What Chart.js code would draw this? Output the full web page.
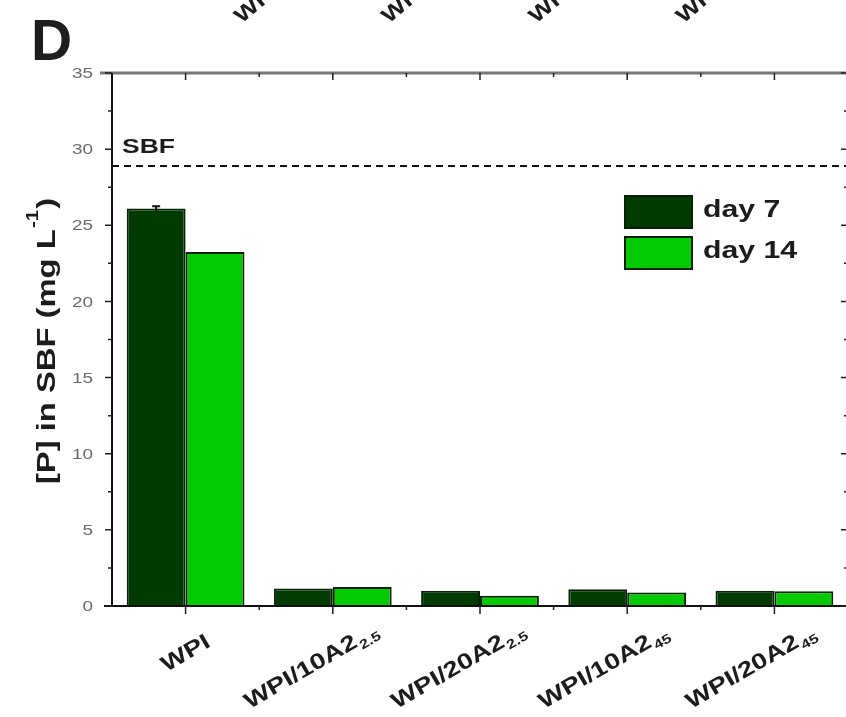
<!DOCTYPE html>
<html>
<head>
<meta charset="utf-8">
<script src="https://cdn.jsdelivr.net/npm/chart.js@4.4.0/dist/chart.umd.min.js"></script>
<style>
  html, body { margin: 0; padding: 0; background: #fff; overflow: hidden; }
  #wrap { position: relative; width: 852px; height: 717px; }
</style>
</head>
<body>
<div id="wrap"><canvas id="chart" width="852" height="717"></canvas></div>
<script>
const samples = ['WPI', 'WPI/10A2', 'WPI/20A2', 'WPI/10A2', 'WPI/20A2'];
const sampleSubs = ['', '2.5', '2.5', '45', '45'];
const day7 = [26.1, 1.15, 1.0, 1.1, 1.0];
const day14 = [23.25, 1.25, 0.68, 0.88, 0.97];
const day7Err = [0.15, 0, 0, 0, 0];
const sbfLevel = 28.9;
const yTicks = [0, 5, 10, 15, 20, 25, 30, 35];
const upperLabels = ['WPI/10A2', 'WPI/20A2', 'WPI/10A2', 'WPI/20A2'];

const dark = '#023b02';
const light = '#06c906';
const edge = '#072207';
const ink = '#1c1c1c';
const FONT = '"Liberation Sans", Arial, sans-serif';
const WIDEN = 1.26; // the figure's lettering is set wider than plain Arial

function wideText(ctx, text, x, y, angle, align, font, color) {
  ctx.save();
  ctx.translate(x, y);
  ctx.rotate(angle);
  ctx.scale(WIDEN, 1);
  ctx.font = font;
  ctx.fillStyle = color;
  ctx.textAlign = align;
  ctx.fillText(text, 0, 0);
  const w = ctx.measureText(text).width * WIDEN;
  ctx.restore();
  return w;
}

// axis frame, ticks, labels, SBF line, error bars and the legend
const extras = {
  id: 'extras',
  afterDatasetsDraw(chart) {
    const { ctx, chartArea: a, scales: { x, y } } = chart;
    ctx.save();
    ctx.textBaseline = 'alphabetic';

    // SBF reference line
    const ys = y.getPixelForValue(sbfLevel);
    ctx.strokeStyle = '#111';
    ctx.lineWidth = 2;
    ctx.setLineDash([7, 5]);
    ctx.beginPath();
    ctx.moveTo(a.left, ys);
    ctx.lineTo(a.right, ys);
    ctx.stroke();
    ctx.setLineDash([]);
    wideText(ctx, 'SBF', a.left + 10, ys - 13, 0, 'left', 'bold 21px ' + FONT, ink);

    // error bars on day 7
    chart.getDatasetMeta(0).data.forEach((bar, i) => {
      if (!day7Err[i]) return;
      const top = y.getPixelForValue(day7[i] + day7Err[i]);
      const bot = y.getPixelForValue(day7[i] - day7Err[i]);
      ctx.strokeStyle = '#111';
      ctx.lineWidth = 2;
      ctx.beginPath();
      ctx.moveTo(bar.x, top); ctx.lineTo(bar.x, bot);
      ctx.moveTo(bar.x - 4, top); ctx.lineTo(bar.x + 4, top);
      ctx.stroke();
    });

    // frame
    ctx.lineWidth = 3;
    ctx.strokeStyle = '#777';
    ctx.beginPath();
    ctx.moveTo(a.left - 12, a.top); ctx.lineTo(a.right, a.top);
    ctx.stroke();
    ctx.lineWidth = 2;
    ctx.strokeStyle = '#111';
    ctx.beginPath();
    ctx.moveTo(a.left, a.top); ctx.lineTo(a.left, a.bottom + 1);
    ctx.moveTo(a.left - 8, a.bottom); ctx.lineTo(a.right, a.bottom);
    ctx.moveTo(a.right, a.top); ctx.lineTo(a.right, a.bottom);
    ctx.stroke();

    // y ticks, major and minor, with labels
    ctx.lineWidth = 1.5;
    ctx.strokeStyle = '#222';
    for (let v = 0; v <= 35; v += 2.5) {
      const py = y.getPixelForValue(v);
      const len = v % 5 === 0 ? 7 : 4;
      ctx.beginPath();
      ctx.moveTo(a.left - len, py); ctx.lineTo(a.left, py);
      ctx.moveTo(a.right - len, py); ctx.lineTo(a.right, py);
      ctx.stroke();
    }
    ctx.textBaseline = 'middle';
    yTicks.forEach(v => {
      wideText(ctx, String(v), a.left - 19, y.getPixelForValue(v) + 1, 0, 'right', '15px ' + FONT, '#6a6a6a');
    });
    ctx.textBaseline = 'alphabetic';

    // x ticks at category centres and boundaries
    const half = (x.getPixelForValue(1) - x.getPixelForValue(0)) / 2;
    samples.forEach((s, i) => {
      const px = x.getPixelForValue(i);
      ctx.beginPath();
      ctx.moveTo(px, a.bottom); ctx.lineTo(px, a.bottom + 8);
      ctx.moveTo(px, a.top); ctx.lineTo(px, a.top + 7);
      ctx.moveTo(px + half, a.bottom); ctx.lineTo(px + half, a.bottom + 4);
      ctx.moveTo(px + half, a.top); ctx.lineTo(px + half, a.top + 4);
      ctx.stroke();
    });

    // rotated sample names with subscripts
    const ang = -30 * Math.PI / 180;
    samples.forEach((s, i) => {
      const px = x.getPixelForValue(i) + 26;
      const py = a.bottom + 40;
      ctx.save();
      ctx.translate(px, py);
      ctx.rotate(ang);
      ctx.scale(WIDEN, 1);
      ctx.fillStyle = ink;
      ctx.font = 'bold 22px ' + FONT;
      ctx.textAlign = 'right';
      ctx.fillText(s, 0, 0);
      if (sampleSubs[i]) {
        ctx.font = 'bold 13px ' + FONT;
        ctx.textAlign = 'left';
        ctx.fillText(sampleSubs[i], 1, 5);
      }
      ctx.restore();
    });

    // legend
    const lx = a.left + 513, ly = a.top + 123;
    [[dark, 'day 7'], [light, 'day 14']].forEach(([c, t], i) => {
      const by = ly + i * 41;
      ctx.fillStyle = c;
      ctx.fillRect(lx, by, 67, 32);
      ctx.strokeStyle = edge;
      ctx.lineWidth = 2;
      ctx.strokeRect(lx, by, 67, 32);
      wideText(ctx, t, lx + 78, by + 21, 0, 'left', 'bold 24px ' + FONT, ink);
    });

    ctx.restore();
  },
  afterDraw(chart) {
    const { ctx, scales: { x } } = chart;
    ctx.save();
    ctx.textBaseline = 'alphabetic';

    // panel letter
    ctx.fillStyle = '#1e1e1e';
    ctx.font = 'bold 57px ' + FONT;
    ctx.fillText('D', 31, 60);

    // y axis title with superscript
    const main = '[P] in SBF (mg L', sup = '-1', tail = ')';
    ctx.save();
    ctx.translate(55, 341);
    ctx.rotate(-Math.PI / 2);
    ctx.scale(WIDEN, 1);
    ctx.fillStyle = ink;
    ctx.font = 'bold 26px ' + FONT;
    const wMain = ctx.measureText(main).width;
    const wTail = ctx.measureText(tail).width;
    ctx.font = 'bold 16px ' + FONT;
    const wSup = ctx.measureText(sup).width;
    let cx = -(wMain + wSup + wTail + 2) / 2;
    ctx.font = 'bold 26px ' + FONT;
    ctx.fillText(main, cx, 0);
    cx += wMain + 1;
    ctx.font = 'bold 16px ' + FONT;
    ctx.fillText(sup, cx, -17);
    cx += wSup + 1;
    ctx.font = 'bold 26px ' + FONT;
    ctx.fillText(tail, cx, 0);
    ctx.restore();

    // sample names of the panel above, clipped by the top edge
    upperLabels.forEach((s, i) => {
      const px = x.getPixelForValue(i) + 56;
      ctx.save();
      ctx.translate(px, 24);
      ctx.rotate(-40 * Math.PI / 180);
      ctx.scale(WIDEN, 1);
      ctx.fillStyle = ink;
      ctx.font = 'bold 21px ' + FONT;
      ctx.fillText(s, 0, 0);
      ctx.restore();
    });
    ctx.restore();
  }
};

new Chart(document.getElementById('chart'), {
  type: 'bar',
  data: {
    labels: samples.map((s, i) => s + sampleSubs[i]),
    datasets: [
      { label: 'day 7', data: day7, backgroundColor: dark, borderColor: edge, borderWidth: 2 },
      { label: 'day 14', data: day14, backgroundColor: light, borderColor: edge, borderWidth: 2 }
    ]
  },
  options: {
    responsive: false,
    animation: false,
    devicePixelRatio: 1,
    layout: { padding: { top: 73, right: 4, left: 0, bottom: 0 } },
    datasets: { bar: { categoryPercentage: 0.8, barPercentage: 1.0 } },
    plugins: { legend: { display: false }, tooltip: { enabled: false } },
    scales: {
      x: {
        grid: { display: false, drawTicks: false },
        border: { display: false },
        ticks: { display: false },
        afterFit(s) { s.height = 111; }
      },
      y: {
        min: 0, max: 35,
        afterBuildTicks(s) { s.ticks = yTicks.map(v => ({ value: v })); },
        grid: { display: false, drawTicks: false },
        border: { display: false },
        ticks: { display: false },
        afterFit(s) { s.width = 112; }
      }
    }
  },
  plugins: [extras]
});
</script>
</body>
</html>
